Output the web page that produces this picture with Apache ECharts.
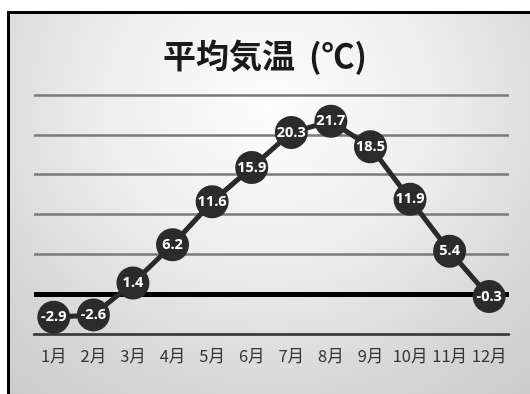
<!DOCTYPE html>
<html><head><meta charset="utf-8">
<script src="https://cdn.jsdelivr.net/npm/echarts@6/dist/echarts.min.js"></script>
<style>
html,body{margin:0;padding:0;background:#fff;}
#frame{position:absolute;left:7px;top:11px;width:540px;height:400px;border-left:3px solid #000;border-top:3px solid #000;
background:radial-gradient(ellipse 75% 95% at 48% 22%, #fdfdfd 0%, #eeeeee 40%, #d8d8d8 75%, #cccccc 100%);}
#chart{position:absolute;left:0;top:0;width:530px;height:394px;}
</style></head>
<body><div id="frame"></div><div id="chart"></div>
<script>
const categories = ['1月','2月','3月','4月','5月','6月','7月','8月','9月','10月','11月','12月'];
const temps = [-2.9, -2.6, 1.4, 6.2, 11.6, 15.9, 20.3, 21.7, 18.5, 11.9, 5.4, -0.3];
const titleMain = '平均気温';
const titleUnit = '(℃)';
const yMin = -5, yMax = 25, yStep = 5;

const chart = echarts.init(document.getElementById('chart'));
chart.setOption({
  backgroundColor: 'transparent',
  animation: false,
  title: {
    text: '{a|' + titleMain + '}{b|' + titleUnit + '}', left: 'center', top: 34,
    textStyle: {
      rich: {
        a: {fontFamily: 'Noto Sans CJK JP', fontWeight: 'bold', fontSize: 33, color: '#1a1a1a'},
        b: {fontFamily: 'Noto Sans CJK JP', fontWeight: 'bold', fontSize: 33, color: '#1a1a1a', padding: [0, 0, 0, 14]}
      }
    }
  },
  grid: {left: 34, right: 21, top: 95, bottom: 60},
  xAxis: {
    type: 'category', data: categories, boundaryGap: true,
    axisLine: {show: true, onZero: false, lineStyle: {color: '#3a3a3a', width: 2.5}},
    axisTick: {show: false},
    axisLabel: {interval: 0, fontFamily: 'Noto Sans CJK JP', fontSize: 16.5, color: '#333', margin: 13}
  },
  yAxis: {
    type: 'value', min: yMin, max: yMax, interval: yStep,
    axisLabel: {show: false}, axisLine: {show: false}, axisTick: {show: false},
    splitLine: {show: true, lineStyle: {color: '#7a7a7a', width: 2.5}}
  },
  series: [
    {
      type: 'line', data: [], z: 1, silent: true,
      markLine: {
        silent: true, symbol: ['none','none'], label: {show: false},
        lineStyle: {color: '#000', width: 5, type: 'solid'},
        data: [{yAxis: 0}]
      }
    },
    {
      type: 'line', data: temps, z: 5,
      symbol: 'circle', symbolSize: 33, showSymbol: true, showAllSymbol: true,
      lineStyle: {color: '#2a2a2a', width: 5},
      itemStyle: {color: '#2b2b2b'},
      label: {show: true, position: 'inside', color: '#fff', fontFamily: 'Open Sans', fontWeight: 'bold', fontSize: 14.5},
      labelLayout: {hideOverlap: false}
    }
  ]
});
</script></body></html>
